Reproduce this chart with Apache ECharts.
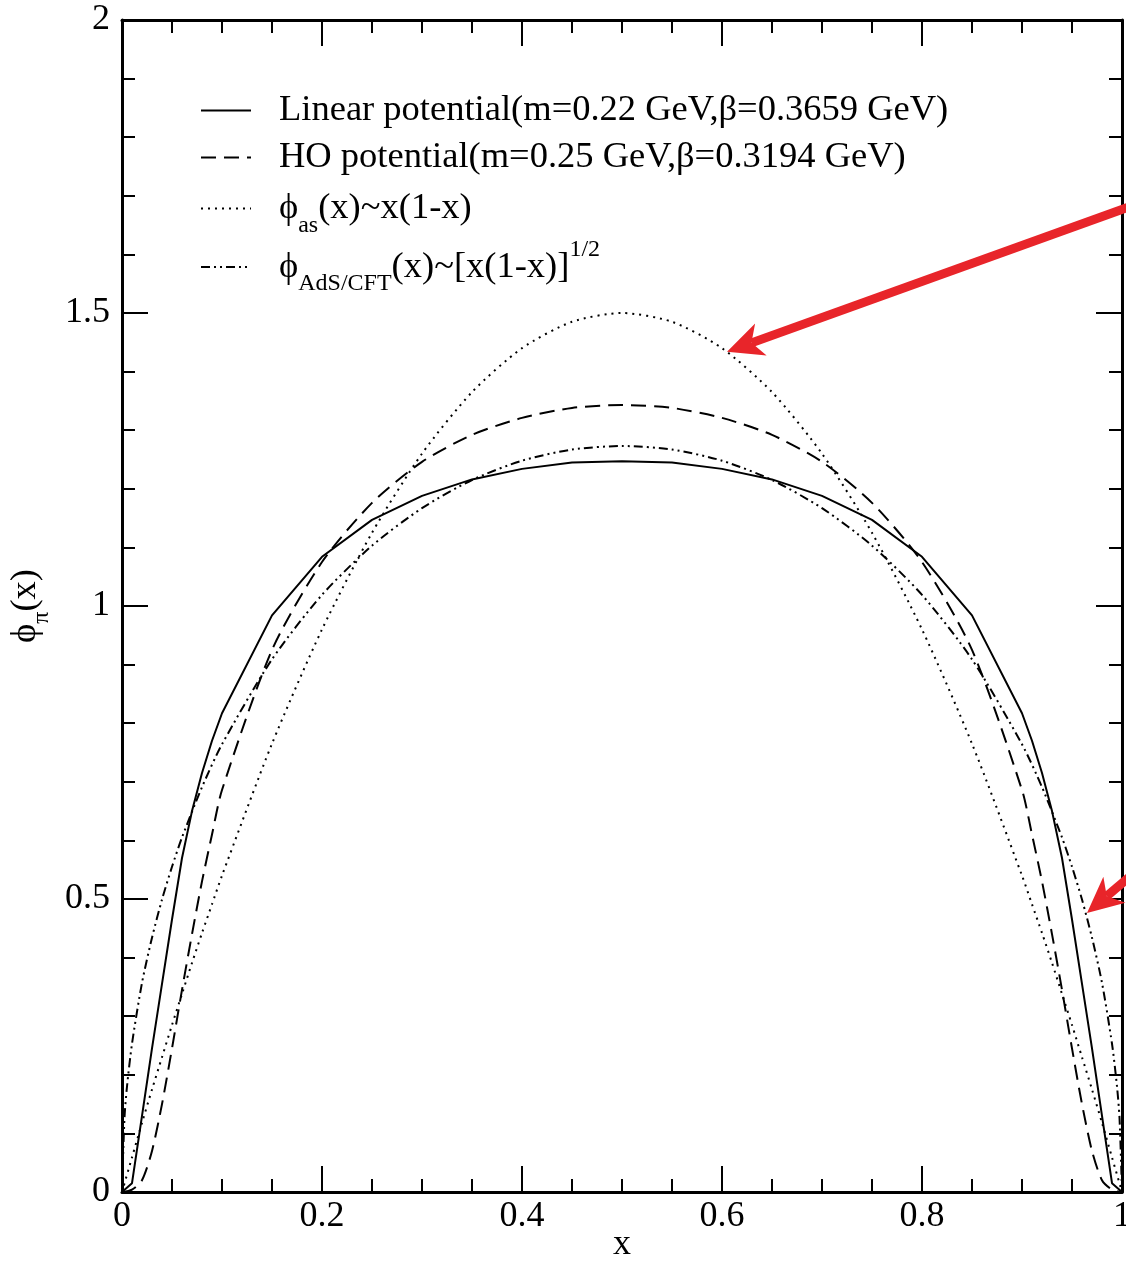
<!DOCTYPE html>
<html>
<head>
<meta charset="utf-8">
<script src="https://cdn.jsdelivr.net/npm/echarts@6/dist/echarts.min.js"></script>
<style>
  html, body { margin: 0; padding: 0; background: #fff; }
  #chart { width: 1126px; height: 1262px; }
</style>
</head>
<body>
<div id="chart"></div>
<script>
// Pion distribution amplitude phi_pi(x) for two quark-model potentials,
// compared with the asymptotic and AdS/CFT forms.

// x grid shared by the model curves and the asymptotic curve
const xModel = [0, 0.01, 0.02, 0.03, 0.04, 0.05, 0.06, 0.07, 0.08, 0.09, 0.1,
  0.15, 0.2, 0.25, 0.3, 0.35, 0.4, 0.45, 0.5, 0.55, 0.6, 0.65, 0.7, 0.75, 0.8, 0.85,
  0.9, 0.91, 0.92, 0.93, 0.94, 0.95, 0.96, 0.97, 0.98, 0.99, 1];

// Linear potential (m=0.22 GeV, beta=0.3659 GeV)
const linearPot = [0, 0.015, 0.13, 0.245, 0.355, 0.465, 0.57, 0.65, 0.715, 0.77, 0.817,
  0.984, 1.084, 1.147, 1.188, 1.216, 1.234, 1.245, 1.247, 1.245, 1.234, 1.216, 1.188, 1.147, 1.084, 0.984,
  0.817, 0.77, 0.715, 0.65, 0.57, 0.465, 0.355, 0.245, 0.13, 0.015, 0];

// HO potential (m=0.25 GeV, beta=0.3194 GeV)
const hoPot = [0, 0.004, 0.02, 0.07, 0.15, 0.245, 0.345, 0.44, 0.53, 0.61, 0.686,
  0.925, 1.075, 1.176, 1.246, 1.292, 1.321, 1.338, 1.343, 1.338, 1.321, 1.292, 1.246, 1.176, 1.075, 0.925,
  0.686, 0.61, 0.53, 0.44, 0.345, 0.245, 0.15, 0.07, 0.02, 0.004, 0];

// asymptotic form ~ x(1-x)
const asymptotic = [0, 0.059, 0.118, 0.175, 0.23, 0.285, 0.338, 0.391, 0.442, 0.491, 0.54,
  0.765, 0.96, 1.125, 1.26, 1.365, 1.44, 1.485, 1.5, 1.485, 1.44, 1.365, 1.26, 1.125, 0.96, 0.765,
  0.54, 0.491, 0.442, 0.391, 0.338, 0.285, 0.23, 0.175, 0.118, 0.059, 0];

// AdS/CFT form ~ [x(1-x)]^(1/2), sampled more finely at the end points
const xAdS = [0, 0.0025, 0.005, 0.01, 0.02, 0.03, 0.04, 0.05, 0.06, 0.08, 0.1,
  0.15, 0.2, 0.25, 0.3, 0.35, 0.4, 0.45, 0.5, 0.55, 0.6, 0.65, 0.7, 0.75, 0.8, 0.85,
  0.9, 0.92, 0.94, 0.95, 0.96, 0.97, 0.98, 0.99, 0.995, 0.9975, 1];
const adsCft = [0, 0.127, 0.18, 0.253, 0.357, 0.434, 0.499, 0.555, 0.605, 0.691, 0.764,
  0.909, 1.019, 1.103, 1.167, 1.215, 1.248, 1.267, 1.273, 1.267, 1.248, 1.215, 1.167, 1.103, 1.019, 0.909,
  0.764, 0.691, 0.605, 0.555, 0.499, 0.434, 0.357, 0.253, 0.18, 0.127, 0];

const xTickLabels = ['0', '0.2', '0.4', '0.6', '0.8', '1'];
const yTickLabels = ['0', '0.5', '1', '1.5', '2'];

const seriesNames = [
  'Linear potential(m=0.22 GeV,β=0.3659 GeV)',
  'HO potential(m=0.25 GeV,β=0.3194 GeV)',
  'ϕas(x)~x(1-x)',
  'ϕAdS/CFT(x)~[x(1-x)]1/2'
];
// legend texts with sub/superscripts
const legendRich = [
  '{m|Linear potential(m=0.22 GeV,β=0.3659 GeV)}',
  '{m|HO potential(m=0.25 GeV,β=0.3194 GeV)}',
  '{m|ϕ}{sub|as}{m|(x)~x(1-x)}',
  '{m|ϕ}{sub|AdS/CFT}{m|(x)~[x(1-x)]}{sup|1/2}'
];

const FONT = '"Liberation Serif", "Times New Roman", Times, serif';
const RED = '#e8252a';
const zip = (xs, ys) => xs.map((x, i) => [x, ys[i]]);

const richText = {
  m: { fontFamily: FONT, fontSize: 36.5, lineHeight: 58, color: '#000' },
  sub: { fontFamily: FONT, fontSize: 24, lineHeight: 24, verticalAlign: 'bottom', color: '#000' },
  sup: { fontFamily: FONT, fontSize: 24, lineHeight: 24, verticalAlign: 'top', color: '#000' }
};

const axisLineStyle = { color: '#000', width: 3 };
const tickStyle = { color: '#000', width: 2 };

function xAxisDef(pos, showLabel) {
  return {
    type: 'value', position: pos, min: 0, max: 1, interval: 0.2,
    axisLine: { show: true, onZero: false, lineStyle: axisLineStyle },
    axisTick: { show: true, inside: true, length: 26, lineStyle: tickStyle },
    minorTick: { show: true, splitNumber: 4, length: 13, lineStyle: tickStyle },
    splitLine: { show: false },
    axisLabel: {
      show: showLabel, margin: 7, color: '#000', fontFamily: FONT, fontSize: 36,
      formatter: v => xTickLabels[Math.round(v / 0.2)]
    },
    name: showLabel ? 'x' : '', nameLocation: 'middle', nameGap: 35, nameMoveOverlap: false,
    nameTextStyle: { fontFamily: FONT, fontSize: 36, color: '#000' }
  };
}
function yAxisDef(pos, showLabel) {
  return {
    type: 'value', position: pos, min: 0, max: 2, interval: 0.5,
    axisLine: { show: true, onZero: false, lineStyle: axisLineStyle },
    axisTick: { show: true, inside: true, length: 26, lineStyle: tickStyle },
    minorTick: { show: true, splitNumber: 5, length: 13, lineStyle: tickStyle },
    splitLine: { show: false },
    axisLabel: {
      show: showLabel, margin: 12, color: '#000', fontFamily: FONT, fontSize: 36,
      formatter: v => yTickLabels[Math.round(v / 0.5)]
    },
    name: showLabel ? '{m|ϕ}{sub|π}{m|(x)}' : '', nameLocation: 'middle', nameRotate: 90, nameGap: 60,
    nameTextStyle: { rich: richText }
  };
}

function lineSeries(name, data, dash, width, smooth) {
  return {
    name, type: 'line', data, symbol: 'none', showSymbol: false,
    smooth: smooth,
    xAxisIndex: 0, yAxisIndex: 0,
    lineStyle: { color: '#000', width: width, type: dash },
    itemStyle: { color: '#000' },
    emphasis: { disabled: true }
  };
}

const legendTops = [92, 139, 190, 238];

const chart = echarts.init(document.getElementById('chart'), null, { renderer: 'canvas' });
chart.setOption({
  animation: false,
  backgroundColor: '#fff',
  grid: { left: 122, right: 4, top: 20, bottom: 70, containLabel: false, outerBoundsMode: 'none' },
  xAxis: [xAxisDef('bottom', true), xAxisDef('top', false)],
  yAxis: [yAxisDef('left', true), yAxisDef('right', false)],
  legend: seriesNames.map((n, i) => ({
    data: [n], left: 200, top: legendTops[i], padding: 0,
    orient: 'vertical', itemWidth: 50, itemHeight: 14, selectedMode: false,
    lineStyle: { width: 2 },
    itemStyle: { opacity: 0 },
    formatter: () => legendRich[i],
    textStyle: { padding: [0, 0, 0, 23], rich: richText }
  })),
  series: [
    lineSeries(seriesNames[0], zip(xModel, linearPot), 'solid', 2, false),
    lineSeries(seriesNames[1], zip(xModel, hoPot), [15, 8], 2, 0.25),
    lineSeries(seriesNames[2], zip(xModel, asymptotic), [2, 5], 2, 0.25),
    lineSeries(seriesNames[3], zip(xAdS, adsCft), [9, 4, 2, 4, 2, 4], 2, 0.25)
  ]
});

// red pointer arrows (tip and tail in data coordinates)
const arrowDefs = [
  { tip: [0.605, 1.434], tail: [1.02, 1.689] },
  { tip: [0.965, 0.476], tail: [1.02, 0.556] }
];
function arrowShapes(a) {
  const t = chart.convertToPixel({ xAxisIndex: 0, yAxisIndex: 0 }, a.tip);
  const s = chart.convertToPixel({ xAxisIndex: 0, yAxisIndex: 0 }, a.tail);
  const dx = s[0] - t[0], dy = s[1] - t[1];
  const len = Math.hypot(dx, dy);
  const ux = dx / len, uy = dy / len, nx = -uy, ny = ux;
  const L = 36, W = 17, N = 26;
  const back = [t[0] + ux * L, t[1] + uy * L];
  const notch = [t[0] + ux * N, t[1] + uy * N];
  return [
    { type: 'line', silent: true, z: 100,
      shape: { x1: notch[0], y1: notch[1], x2: s[0], y2: s[1] },
      style: { stroke: RED, lineWidth: 9 } },
    { type: 'polygon', silent: true, z: 101,
      shape: { points: [t, [back[0] + nx * W, back[1] + ny * W], notch, [back[0] - nx * W, back[1] - ny * W]] },
      style: { fill: RED } }
  ];
}
chart.setOption({ graphic: arrowDefs.flatMap(arrowShapes) });
</script>
</body>
</html>
